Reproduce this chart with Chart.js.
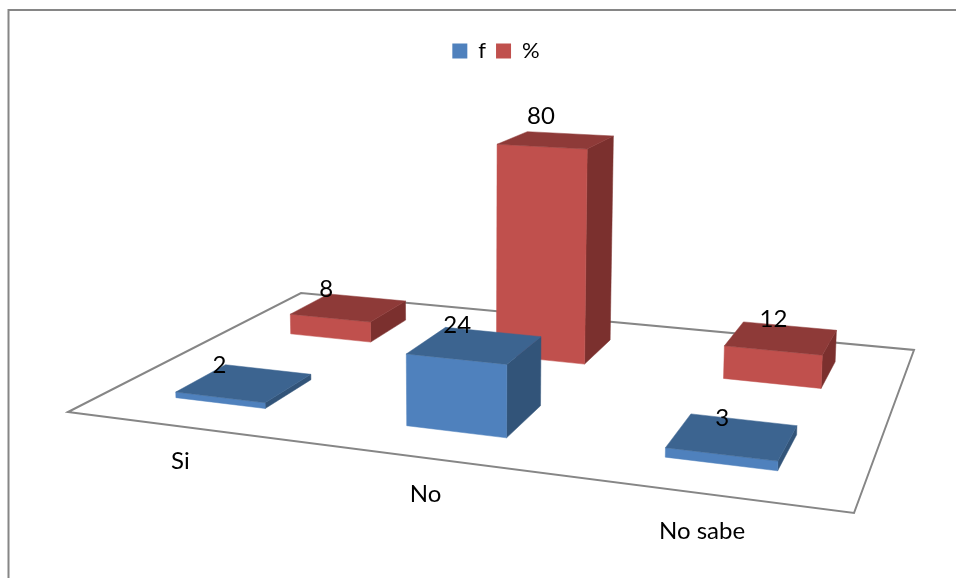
<!DOCTYPE html>
<html>
<head>
<meta charset="utf-8">
<script src="https://cdn.jsdelivr.net/npm/chart.js@4"></script>
<style>
  html, body { margin: 0; background: #fff; }
  canvas { display: block; }
</style>
</head>
<body>
<canvas id="chart" width="956" height="578"></canvas>
<script>
const categories = ["Si", "No", "No sabe"];
const fValues = [2, 24, 3];
const pctValues = [8, 80, 12];

const FONT = "Lato, 'Noto Sans', sans-serif";
const BLUE = { front: "#4f81bd", top: "#3c6490", side: "#325479" };
const RED = { front: "#c0504d", top: "#8e3a38", side: "#7b302e" };
const LINE = "#868686";

// floor of the 3d plot on screen: front-left, front-right, back-right, back-left
const floor = [[68, 412], [854, 513], [914, 350], [301, 293]];
const HEIGHT_100 = 289; // pixels for 100 units at w = 1
const RISE = 0.0001;    // tall bars get closer to the camera
const RISE_X = 470;

// unit square -> floor quad
function makeHomography(q) {
  const [p00, p10, p11, p01] = q;
  const dx1 = p10[0] - p11[0], dx2 = p01[0] - p11[0], sx = p00[0] - p10[0] + p11[0] - p01[0];
  const dy1 = p10[1] - p11[1], dy2 = p01[1] - p11[1], sy = p00[1] - p10[1] + p11[1] - p01[1];
  const den = dx1 * dy2 - dx2 * dy1;
  const g = (sx * dy2 - dx2 * sy) / den;
  const h = (dx1 * sy - sx * dy1) / den;
  const a = p10[0] - p00[0] + g * p10[0], b = p01[0] - p00[0] + h * p01[0], c = p00[0];
  const d = p10[1] - p00[1] + g * p10[1], e = p01[1] - p00[1] + h * p01[1], f = p00[1];
  return (u, v, lift = 0) => {
    const w = g * u + h * v + 1;
    const grow = 1 + RISE * lift;
    const x = (a * u + b * v + c) / w;
    return [RISE_X + (x - RISE_X) * grow, (d * u + e * v + f) / w - (lift * grow) / w];
  };
}
const project = makeHomography(floor);

function poly(ctx, pts, color) {
  ctx.beginPath();
  pts.forEach((p, i) => (i ? ctx.lineTo(p[0], p[1]) : ctx.moveTo(p[0], p[1])));
  ctx.closePath();
  ctx.fillStyle = color;
  ctx.fill();
  ctx.strokeStyle = color;
  ctx.lineWidth = 0.5;
  ctx.stroke();
}

// bar elements from chart.js give x, width and height, they get drawn as boxes on the floor
const bars3d = {
  id: "bars3d",
  beforeDatasetsDraw(chart) {
    const { ctx, chartArea: area, scales } = chart;
    const n = chart.data.datasets.length;

    ctx.save();
    ctx.lineJoin = "miter";

    // frame
    ctx.strokeStyle = LINE;
    ctx.lineWidth = 2;
    ctx.beginPath();
    ctx.moveTo(8.5, 600);
    ctx.lineTo(8.5, 10);
    ctx.lineTo(960, 10);
    ctx.stroke();

    // floor
    ctx.beginPath();
    floor.forEach((p, i) => (i ? ctx.lineTo(p[0], p[1]) : ctx.moveTo(p[0], p[1])));
    ctx.closePath();
    ctx.stroke();

    const labels = [];
    for (let ds = n - 1; ds >= 0; ds--) {
      const colors = ds === 0 ? BLUE : RED;
      const v0 = (ds + 0.5) / n;
      const dv = 0.1;
      chart.getDatasetMeta(ds).data.forEach((bar, i) => {
        const u0 = (bar.x - area.left) / area.width;
        const du = bar.width / area.width / 2;
        const lift = ((bar.base - bar.y) / area.height) * HEIGHT_100;
        const P = (s, t, up) => project(u0 + s * du, v0 + t * dv, up ? lift : 0);

        poly(ctx, [P(1, -1, 0), P(1, 1, 0), P(1, 1, 1), P(1, -1, 1)], colors.side);
        poly(ctx, [P(-1, -1, 0), P(1, -1, 0), P(1, -1, 1), P(-1, -1, 1)], colors.front);
        poly(ctx, [P(-1, -1, 1), P(1, -1, 1), P(1, 1, 1), P(-1, 1, 1)], colors.top);

        const c = project(u0, v0, lift);
        const h = c[1] - project(u0, v0)[1];
        labels.push({
          text: String(chart.data.datasets[ds].data[i]),
          x: c[0] - 30 + 22 * u0 + 5 * v0,
          y: c[1] - 18 + 0.03 * h
        });
      });
    }

    ctx.fillStyle = "#000";
    ctx.font = "24px " + FONT;
    ctx.textAlign = "center";
    ctx.textBaseline = "middle";
    labels.forEach(l => ctx.fillText(l.text, l.x, l.y));

    // category names under the front edge of the floor
    scales.x.ticks.forEach((t, i) => {
      const u = (scales.x.getPixelForTick(i) - area.left) / area.width;
      const p = project(u, 0);
      ctx.fillText(t.label, p[0], p[1] + 34.5 + 4.5 * u);
    });
    ctx.restore();
    return false;
  }
};

new Chart(document.getElementById("chart"), {
  type: "bar",
  data: {
    labels: categories,
    datasets: [
      { label: "f", data: fValues, backgroundColor: BLUE.front, borderWidth: 0 },
      { label: "%", data: pctValues, backgroundColor: RED.front, borderWidth: 0 }
    ]
  },
  options: {
    responsive: false,
    animation: false,
    devicePixelRatio: 1,
    grouped: false,
    barPercentage: 1,
    categoryPercentage: 0.4,
    layout: { padding: { left: 36, top: 30, right: 0, bottom: 0 } },
    scales: {
      x: { display: false },
      y: { display: false, min: 0, max: 100 }
    },
    plugins: {
      tooltip: { enabled: false },
      legend: {
        position: "top",
        labels: {
          boxWidth: 15,
          boxHeight: 15,
          padding: 10,
          color: "#000",
          font: { size: 22, family: FONT }
        }
      }
    }
  },
  plugins: [bars3d]
});
</script>
</body>
</html>
